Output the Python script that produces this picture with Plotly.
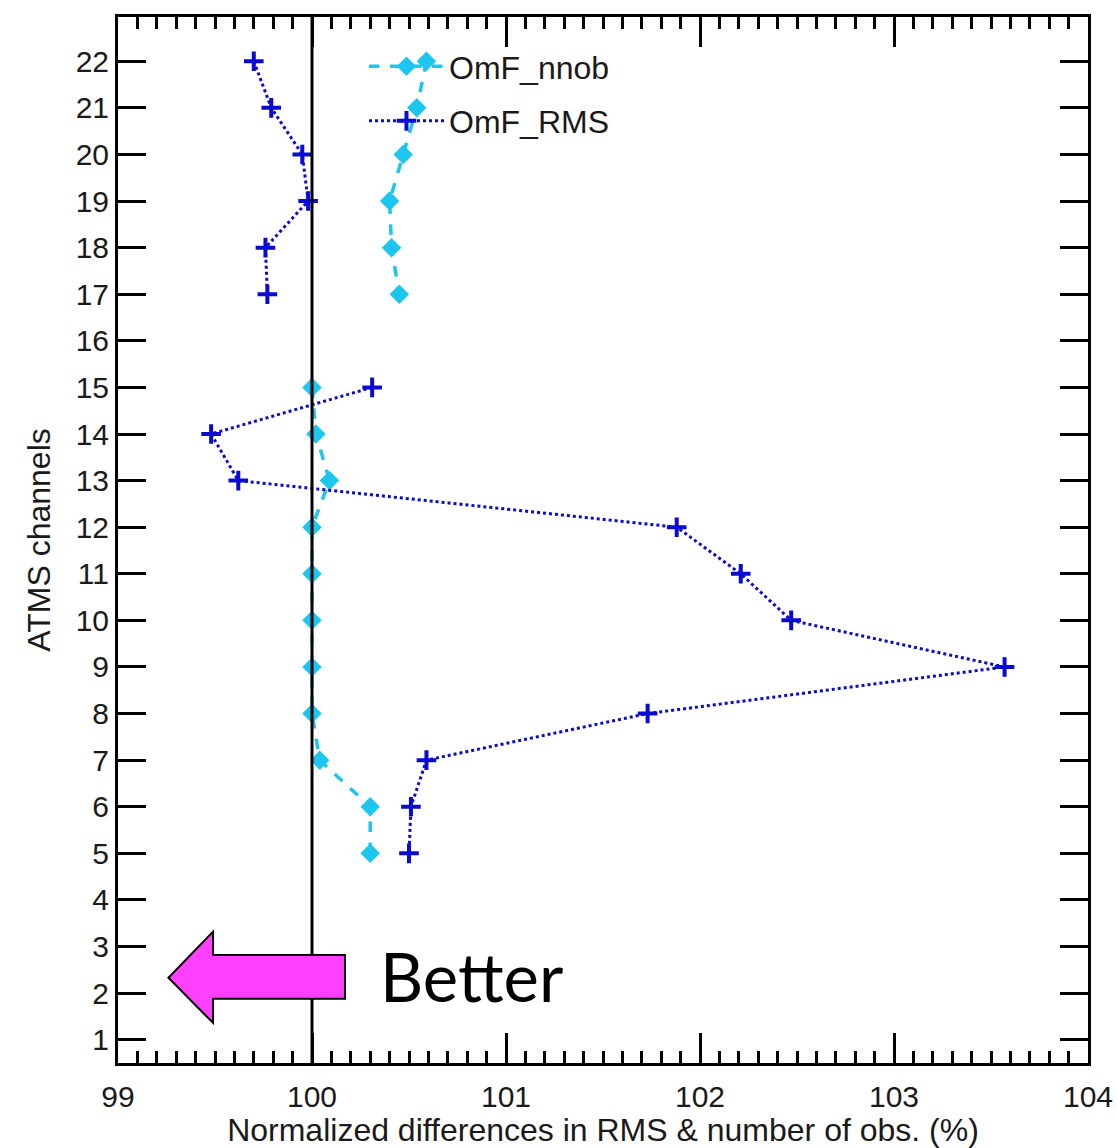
import plotly.graph_objects as go

# ---- data ----
rms_channels = [22, 21, 20, 19, 18, 17, 15, 14, 13, 12, 11, 10, 9, 8, 7, 6, 5]
rms_values = [99.70, 99.79, 99.95, 99.98, 99.76, 99.77, 100.31, 99.48, 99.62,
              101.88, 102.21, 102.47, 103.57, 101.73, 100.59, 100.51, 100.50]

nnob_channels = [22, 21, 20, 19, 18, 17, 15, 14, 13, 12, 11, 10, 9, 8, 7, 6, 5]
nnob_values = [100.59, 100.54, 100.47, 100.40, 100.41, 100.45, 100.00, 100.02, 100.09,
               100.00, 100.00, 100.00, 100.00, 100.00, 100.04, 100.30, 100.30]

y_ticks = list(range(1, 23))
x_ticks = [99, 100, 101, 102, 103, 104]
ref_value = 100

FONT = "Liberation Sans, Arial, Helvetica, sans-serif"
TXT = "#1a1a1a"
CYAN = "#1cc6ee"
BLUE = "#0a0ad2"

fig = go.Figure()

# Break lines at the missing channel 16
def with_gap(ch, vals):
    xs, ys = [], []
    for i, (c, v) in enumerate(zip(ch, vals)):
        if i > 0 and ch[i - 1] - c > 1:
            xs.append(None); ys.append(None)
        xs.append(v); ys.append(c)
    return xs, ys

nx, ny = with_gap(nnob_channels, nnob_values)
rx, ry = with_gap(rms_channels, rms_values)

fig.add_trace(go.Scatter(
    x=nx, y=ny, mode="lines+markers", name="OmF_nnob",
    line=dict(color=CYAN, width=3.5, dash="dash"),
    marker=dict(symbol="diamond", size=15, color=CYAN),
    legendgroup="a",
))
fig.add_trace(go.Scatter(
    x=rx, y=ry, mode="lines+markers", name="OmF_RMS",
    line=dict(color=BLUE, width=3, dash="dot"),
    marker=dict(symbol="cross-thin", size=14, color=BLUE,
                line=dict(color=BLUE, width=4)),
    legendgroup="b",
))

# reference line at 100
fig.add_shape(type="line", x0=ref_value, x1=ref_value, y0=0, y1=1,
              xref="x", yref="paper", line=dict(color="black", width=3))

# "Better" arrow
fig.add_shape(
    type="path",
    path="M 99.26 2.33 L 99.49 3.32 L 99.49 2.82 L 100.17 2.82 L 100.17 1.88 L 99.49 1.88 L 99.49 1.36 Z",
    xref="x", yref="y", fillcolor="#ff40ff", line=dict(color="black", width=2),
    layer="above",
)
fig.add_annotation(
    x=100.34, y=2.36, xref="x", yref="y", text="Better", showarrow=False,
    xanchor="left", yanchor="middle",
    font=dict(family="Lato, Open Sans, sans-serif", size=67, color="black"),
)

fig.update_layout(
    width=1117, height=1148,
    margin=dict(l=118, r=29, t=17, b=85),
    plot_bgcolor="white", paper_bgcolor="white",
    font=dict(family=FONT, size=30, color=TXT),
    showlegend=True,
    legend=dict(
        x=0.2536, y=0.979, xanchor="left", yanchor="top",
        bgcolor="rgba(0,0,0,0)", borderwidth=0,
        font=dict(family=FONT, size=32, color=TXT),
        tracegroupgap=10, itemwidth=75,
    ),
)

fig.update_xaxes(
    range=[99, 104], tickvals=x_ticks, ticktext=[str(v) for v in x_ticks],
    ticks="inside", ticklen=30, tickwidth=2.5, tickcolor="black",
    minor=dict(dtick=0.1, ticks="inside", ticklen=12, tickwidth=2.5, tickcolor="black"),
    showline=True, linecolor="black", linewidth=3, mirror="allticks",
    showgrid=False, zeroline=False, automargin=False,
    tickfont=dict(family=FONT, size=30, color=TXT),
    ticklabelstandoff=5,
    title=dict(text="Normalized differences in RMS & number of obs. (%)",
               font=dict(family=FONT, size=32, color=TXT), standoff=2),
)
fig.update_yaxes(
    range=[0.5, 22.95], tickvals=y_ticks, ticktext=[str(v) for v in y_ticks],
    ticks="inside", ticklen=28, tickwidth=3, tickcolor="black",
    showline=True, linecolor="black", linewidth=3, mirror="allticks",
    showgrid=False, zeroline=False, automargin=False,
    tickfont=dict(family=FONT, size=30, color=TXT),
    ticklabelstandoff=0,
    title=dict(text="ATMS channels",
               font=dict(family=FONT, size=32, color=TXT), standoff=16),
)

fig.write_html("out.html")
